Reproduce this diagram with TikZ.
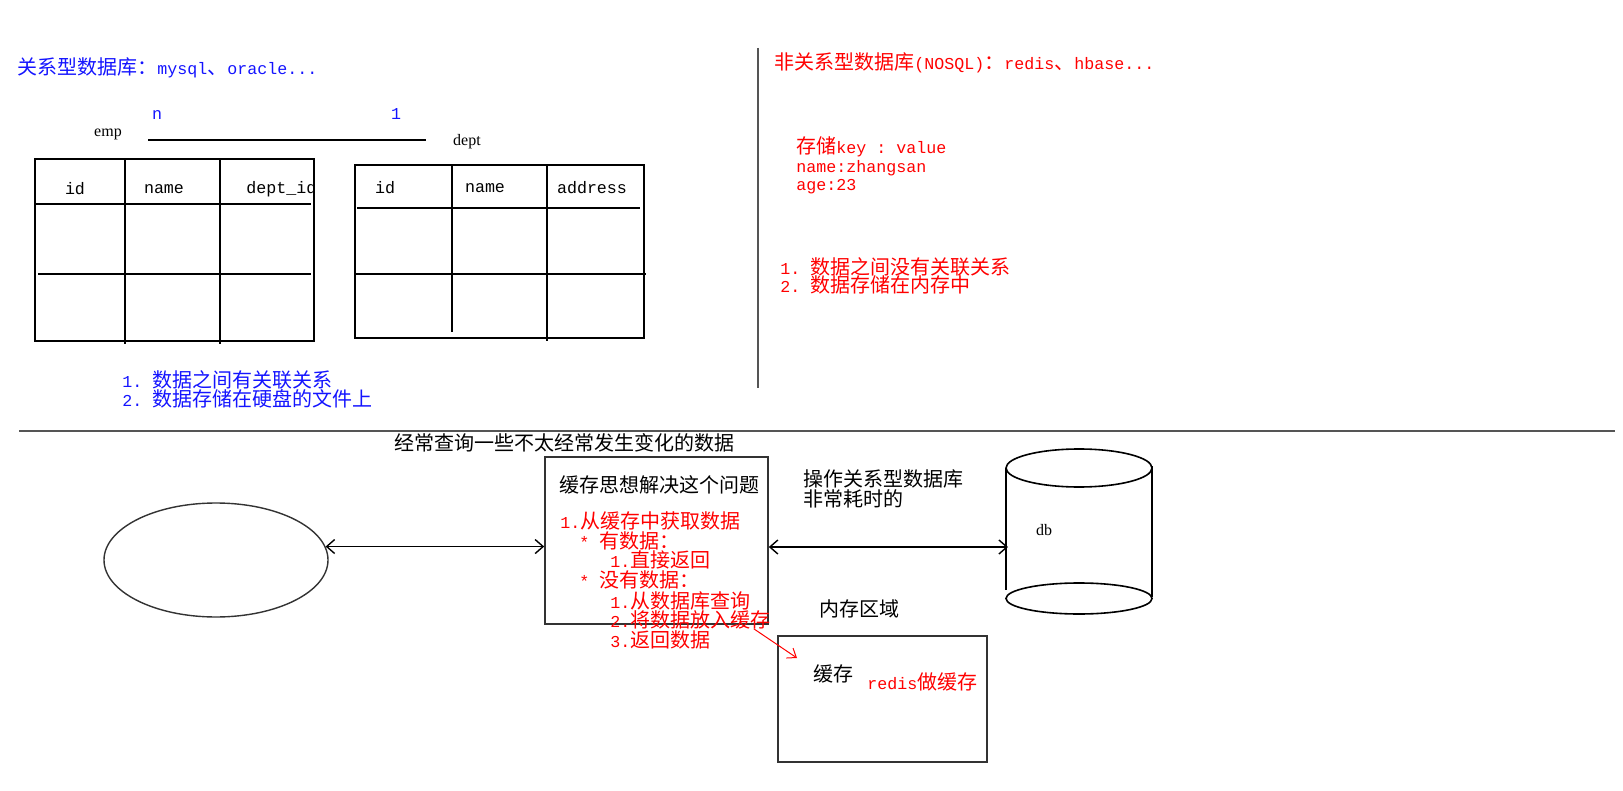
\documentclass[tikz,border=0pt]{standalone}
\usepackage{fontspec}
\setmainfont{Noto Sans CJK SC}
\setmonofont[Scale=0.833]{Liberation Mono}
\newfontfamily\serifen{Liberation Serif}
\usetikzlibrary{arrows.meta, shapes.geometric, positioning}
\definecolor{relblue}{RGB}{20,20,255}
\definecolor{nosqlred}{RGB}{255,0,0}
\definecolor{rulegray}{RGB}{85,85,85}

\begin{document}
\begin{tikzpicture}[
        x=0.5pt, y=-0.5pt,
        every node/.style={font=\fontsize{10}{12}\selectfont, inner sep=0pt},
        txt/.style={anchor=west},
        bluetxt/.style={txt, text=relblue},
        redtxt/.style={txt, text=nosqlred},
        en/.style={font=\serifen\fontsize{8}{10}\selectfont},
        grid/.style={line width=0.8pt},
        rule/.style={line width=0.8pt, color=rulegray},
        box/.style={rectangle, draw=black!80, line width=0.8pt},
        dbl/.style={line width=0.7pt, {Straight Barb[length=4pt,width=7pt]}-{Straight Barb[length=4pt,width=7pt]}},
        redarrow/.style={line width=0.5pt, nosqlred, -{Straight Barb[length=4pt,width=6pt]}}
    ]
    \useasboundingbox (0,0) rectangle (1623,791);

    % relational side
    \node[bluetxt] (reltitle) at (17,68) {关系型数据库：\texttt{mysql}、\texttt{oracle...}};
    \node[en] (emp) at (108,134) {emp};
    \node[en] (dept) at (467,142) {dept};
    \node[text=relblue, font=\ttfamily] (many) at (157,115) {n};
    \node[text=relblue, font=\ttfamily] (one) at (396,114) {1};
    \draw[grid] ([xshift=13pt,yshift=-3pt]emp.east) -- ([xshift=-13.5pt,yshift=1pt]dept.west);

    \draw[grid] (35,159) rectangle (314,341);
    \foreach \cx in {125,220} \draw[grid] (\cx,159) -- (\cx,344);
    \draw[grid] (35,204) -- (311,204);
    \draw[grid] (38,274) -- (311,274);
    \node (empid) at (75,189) {\texttt{id}};
    \node (empname) at (164,189) {\texttt{name}};
    \node[txt] (empdeptid) at (246,189) {\texttt{dept\_id}};

    \draw[grid] (355,165) rectangle (644,338);
    \draw[grid] (452,165) -- (452,332);
    \draw[grid] (547,165) -- (547,341);
    \draw[grid] (357,208) -- (640,208);
    \draw[grid] (355,274) -- (646,274);
    \node (deptid) at (385,188) {\texttt{id}};
    \node (deptname) at (485,188) {\texttt{name}};
    \node (deptaddr) at (592,188) {\texttt{address}};

    \node[bluetxt] (rel1) at (122,380) {\texttt{1. }数据之间有关联关系};
    \node[bluetxt] (rel2) at (122,399) {\texttt{2. }数据存储在硬盘的文件上};

    % dividers
    \draw[rule] (758,48) -- (758,388);
    \draw[rule] (19,431) -- (1615,431);

    % nosql side
    \node[redtxt] (nosqltitle) at (774,63) {非关系型数据库\texttt{(NOSQL)}：\texttt{redis}、\texttt{hbase...}};
    \node[redtxt] (kv) at (796,147) {存储\texttt{key : value}};
    \node[redtxt] (kvname) at (796,168) {\texttt{name:zhangsan}};
    \node[redtxt] (kvage) at (796,187) {\texttt{age:23}};
    \node[redtxt] (nosql1) at (780,267) {\texttt{1. }数据之间没有关联关系};
    \node[redtxt] (nosql2) at (780,285) {\texttt{2. }数据存储在内存中};

    % cache flow
    \node[txt] (often) at (394,443) {经常查询一些不太经常发生变化的数据};
    \node[ellipse, draw=black!80, line width=0.7pt, minimum width=112pt, minimum height=57pt] (client) at (216,560) {};
    \node[box, minimum width=111.5pt, minimum height=83.5pt] (idea) at (656.5,540.5) {};
    \node[txt] (ideatitle) at (559,485) {缓存思想解决这个问题};
    \node[redtxt] (step1) at (560,521) {\texttt{1.}从缓存中获取数据};
    \node[redtxt] (hasdata) at (579,541) {\texttt{* }有数据：};
    \node[redtxt] (ret) at (610,560) {\texttt{1.}直接返回};
    \node[redtxt] (nodata) at (579,580) {\texttt{* }没有数据：};
    \node[redtxt] (query) at (610,601) {\texttt{1.}从数据库查询};
    \node[redtxt] (put) at (610,620) {\texttt{2.}将数据放入缓存};
    \node[redtxt] (back) at (610,640) {\texttt{3.}返回数据};

    \node[txt] (slow1) at (803,479) {操作关系型数据库};
    \node[txt] (slow2) at (803,499) {非常耗时的};

    \draw[grid] (1079,468) ellipse [x radius=36.5pt, y radius=9.5pt];
    \draw[grid] (1006,468) -- (1006,590);
    \draw[grid] (1152,466) -- (1152,597);
    \draw[grid] (1079,598.5) ellipse [x radius=36.5pt, y radius=7.75pt];
    \node[en] (dbtxt) at (1044,530) {db};
    \coordinate (dbside) at (1008,547);

    \draw[dbl] (client.7) -- (client.7 -| idea.west);
    \draw[dbl] (idea.east |- dbside) -- (dbside);

    \node[txt] (memarea) at (819,609) {内存区域};
    \node[box, minimum width=104.5pt, minimum height=63pt] (cachebox) at (882.5,699) {};
    \node (cachetxt) at (833,674) {缓存};
    \node[redtxt] (redis) at (867,682) {\texttt{redis}做缓存};
    \coordinate (cachein) at (797,658);
    \draw[redarrow] ([xshift=-7.5pt,yshift=-2pt]idea.south east) -- (cachein);

\end{tikzpicture}
\end{document}
